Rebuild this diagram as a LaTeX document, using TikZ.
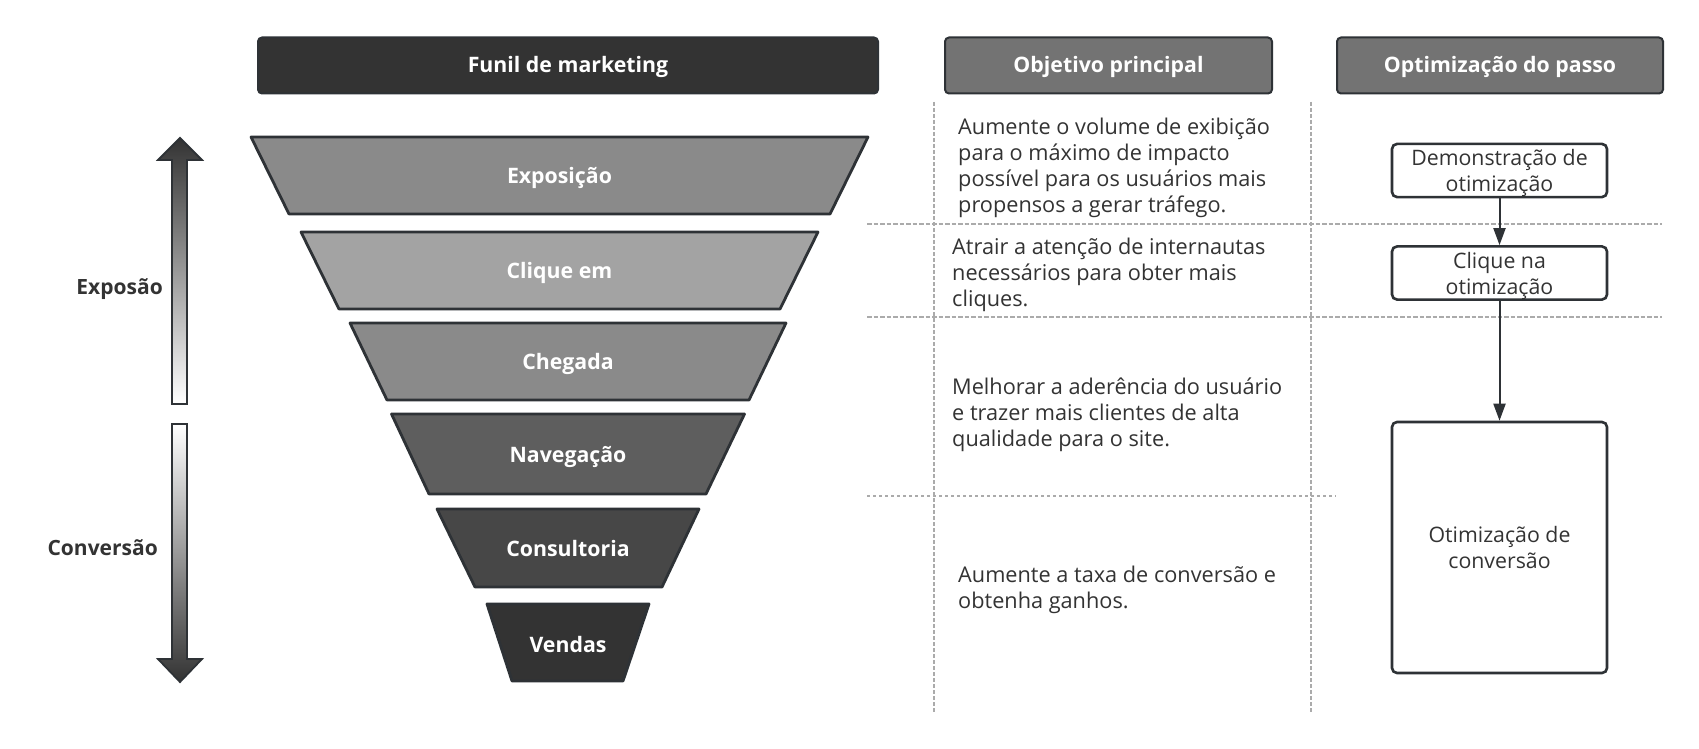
\documentclass[tikz,border=0pt]{standalone}
\usepackage{fontspec}
\setmainfont{Open Sans}
\usetikzlibrary{arrows.meta}
\definecolor{dk}{HTML}{2E3236}
\definecolor{hdrc}{HTML}{737373}
\definecolor{hdrd}{HTML}{333333}
\definecolor{fa}{HTML}{8A8A8A}
\definecolor{fb}{HTML}{A3A3A3}
\definecolor{fc}{HTML}{8A8A8A}
\definecolor{fd}{HTML}{5E5E5E}
\definecolor{fe}{HTML}{474747}
\definecolor{ff}{HTML}{333333}
\definecolor{txt}{HTML}{333333}
\definecolor{gridc}{HTML}{ABABAB}
\tikzset{
  hdr/.style={draw=dk, line width=2pt, rounded corners=4pt, text=white,
    font=\bfseries\fontsize{21.3}{25}\selectfont, minimum height=56pt, inner sep=0pt,
    text height=20pt, text depth=5pt},
  fun/.style={draw=dk, line width=2.8pt, line join=round},
  funlbl/.style={text=white, font=\bfseries\fontsize{21.3}{25}\selectfont, inner sep=0pt},
  body/.style={text=txt, font=\fontsize{21.7}{26}\selectfont, align=left, anchor=west, inner sep=0pt},
  rbox/.style={draw=dk, line width=2.6pt, rounded corners=5pt, fill=white, minimum width=215pt,
    text=txt, font=\fontsize{21.3}{26}\selectfont, align=center, inner sep=0pt},
  conn/.style={draw=dk, line width=2pt, -{Triangle[length=17pt,width=12pt]}},
  vgrid/.style={draw=gridc, line width=2pt, dash pattern=on 4pt off 2pt},
  hgrid/.style={draw=gridc, line width=2pt, dash pattern=on 4.5pt off 2pt},
  hdot/.style={draw=gridc, line width=2pt, dash pattern=on 3pt off 3pt},
  side/.style={text=txt, font=\bfseries\fontsize{21}{25}\selectfont, anchor=east, inner sep=0pt},
  garrow/.style={draw=dk, line width=1.8pt, line join=miter},
}
\begin{document}
\begin{tikzpicture}[x=1pt, y=-1pt]
\useasboundingbox (0,0) rectangle (1699,749);
\fill[white] (0,0) rectangle (1699,749);

% grid lines
\draw[vgrid] (934,102) -- (934,713);
\draw[vgrid] (1310.5,102) -- (1310.5,713);
\draw[hgrid] (867,224) -- (1662,224);
\draw[hgrid] (867,317) -- (1662,317);
\draw[hdot] (867,495.5) -- (1336,495.5);

% headers
\node[hdr, fill=hdrd, minimum width=620pt] (h1) at (568,65.5) {Funil de marketing};
\node[hdr, fill=hdrc, minimum width=327pt] (h2) at (1108.5,65.5) {Objetivo principal};
\node[hdr, fill=hdrc, minimum width=326pt] (h3) at (1500,65.5) {Optimização do passo};

% funnel
\filldraw[fun, fill=fa] (251,137) -- (868,137) -- (830,214) -- (289,214) -- cycle;
\node[funlbl] (s1) at (559.5,178) {Exposição};
\filldraw[fun, fill=fb] (301,232) -- (818,232) -- (780,309) -- (339,309) -- cycle;
\node[funlbl] (s2) at (559.5,273) {Clique em};
\filldraw[fun, fill=fc] (350,323) -- (786,323) -- (749,400) -- (387,400) -- cycle;
\node[funlbl] (s3) at (568,364) {Chegada};
\filldraw[fun, fill=fd] (391.5,414) -- (744.5,414) -- (706,494) -- (429,494) -- cycle;
\node[funlbl] (s4) at (568,456.5) {Navegação};
\filldraw[fun, fill=fe] (437,509) -- (699,509) -- (662,587) -- (475,587) -- cycle;
\node[funlbl] (s5) at (568,549) {Consultoria};
\filldraw[fun, fill=ff] (487,604) -- (649,604) -- (623,681) -- (512,681) -- cycle;
\node[funlbl] (s6) at (568,645) {Vendas};

% side arrows
\shadedraw[garrow, top color=hdrd, bottom color=white]
  (180,138) -- (202,160) -- (187,160) -- (187,404) -- (172,404) -- (172,160) -- (158,160) -- cycle;
\shadedraw[garrow, top color=white, bottom color=hdrd]
  (172,424) -- (187,424) -- (187,659) -- (202,659) -- (180,682) -- (158,659) -- (172,659) -- cycle;
\node[side] (l1) at (163,289) {Exposão};
\node[side] (l2) at (158,548) {Conversão};

% objective texts
\node[body] (t1) at (958,168) {Aumente o volume de exibição\\para o máximo de impacto\\possível para os usuários mais\\propensos a gerar tráfego.};
\node[body] (t2) at (952,275) {Atrair a atenção de internautas\\necessários para obter mais\\cliques.};
\node[body] (t3) at (952,415) {Melhorar a aderência do usuário\\e trazer mais clientes de alta\\qualidade para o site.};
\node[body] (t4) at (958,590) {Aumente a taxa de conversão e\\obtenha ganhos.};

% optimization boxes
\node[rbox, minimum height=51pt] (b1) at (1499.5,170.5) {\rule{0pt}{22pt}Demonstração de\\otimização};
\node[rbox, minimum height=50pt] (b2) at (1499.5,273) {\rule{0pt}{22pt}Clique na\\otimização};
\node[rbox, minimum height=251pt] (b3) at (1499.5,547.5) {Otimização de\\conversão};
\draw[conn] (b1.south) -- (b2.north);
\draw[conn] (b2.south) -- (b3.north);
\end{tikzpicture}
\end{document}
